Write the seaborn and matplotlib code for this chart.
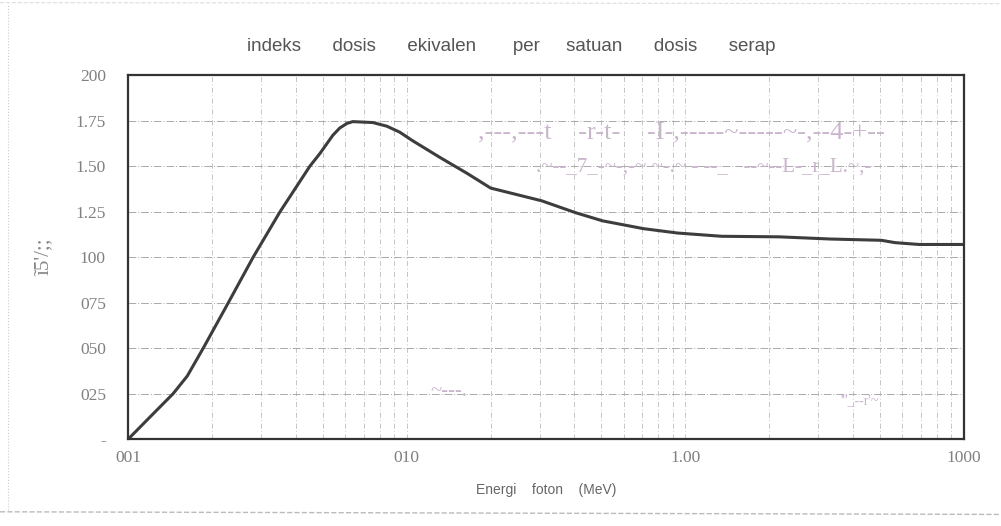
import numpy as np
import pandas as pd
import matplotlib.pyplot as plt
import matplotlib.ticker as mticker
import seaborn as sns

# photon energy (MeV) and equivalent dose index per unit absorbed dose
energy = [0.01, 0.012, 0.0145, 0.0163, 0.0186, 0.0227, 0.0281, 0.0351,
          0.0449, 0.0488, 0.0543, 0.0575, 0.061, 0.064, 0.0755, 0.0848,
          0.0944, 0.105, 0.131, 0.165, 0.200, 0.305, 0.403, 0.504, 0.707,
          0.936, 1.35, 2.17, 3.31, 5.05, 5.66, 6.9, 10.0]
ratio = [0.0, 0.123, 0.25, 0.347, 0.50, 0.74, 1.00, 1.25,
         1.50, 1.57, 1.67, 1.71, 1.735, 1.745, 1.74, 1.72,
         1.687, 1.64, 1.55, 1.46, 1.38, 1.31, 1.245, 1.20, 1.157,
         1.133, 1.115, 1.112, 1.10, 1.093, 1.08, 1.07, 1.07]

y_ticks = [0, 0.25, 0.5, 0.75, 1.0, 1.25, 1.5, 1.75, 2.0]
y_labels = ["-", "025", "050", "075", "100", "1.25", "1.50", "1.75", "200"]
x_ticks = [0.01, 0.1, 1, 10]
x_labels = ["001", "010", "1.00", "1000"]

title = "indeks      dosis      ekivalen       per     satuan      dosis      serap"
xlabel = "Energi    foton    (MeV)"
ylabel = "ĩ5'/;;"

df = pd.DataFrame({"energy": energy, "ratio": ratio})

sns.set_style("white")
plt.rcParams['font.family'] = ['Liberation Serif', 'DejaVu Serif']

fig = plt.figure(figsize=(10.01, 5.26), dpi=100)
ax = fig.add_axes([0.128, 0.165, 0.835, 0.692])

sns.lineplot(data=df, x="energy", y="ratio", ax=ax, color="#3d3d3d", linewidth=2.2)

ax.set_xscale("log")
ax.set_xlim(0.01, 10)
ax.set_ylim(0, 2.0)

ax.set_xticks(x_ticks)
ax.set_xticklabels(x_labels, color="#808080", fontsize=12.5)
ax.set_yticks(y_ticks)
ax.set_yticklabels(y_labels, color="#808080", fontsize=12.5)
ax.xaxis.set_minor_locator(mticker.LogLocator(base=10, subs=np.arange(2, 10)))
ax.xaxis.set_minor_formatter(mticker.NullFormatter())

ax.tick_params(axis="y", length=6, color="#888888", direction="out", pad=10)
ax.tick_params(axis="x", which="both", length=0, pad=8)

ax.grid(True, axis="y", color="#aaaaaa", linewidth=0.7, linestyle=(0, (8, 2, 1, 2)))
ax.grid(True, axis="x", which="both", color="#bbbbbb", linewidth=0.6,
        linestyle=(0, (6, 3, 1, 3)))

for s in ax.spines.values():
    s.set_color("#333333")
    s.set_linewidth(1.6)

ax.set_xlabel(xlabel, family=["Liberation Sans", "DejaVu Sans"], color="#666666",
              fontsize=10, labelpad=12)
ax.set_ylabel(ylabel, color="#888888", fontsize=15, labelpad=16)
fig.text(0.511, 0.912, title, family=["Liberation Sans", "DejaVu Sans"],
         color="#555555", fontsize=13.5, ha="center", va="center")

# faint scanning artefacts
noise = "#c9b6cc"
fig.text(0.478, 0.748, ",---,---t    -r-t-    -I-,-----~-----~-,--4-+--",
         color=noise, fontsize=19, ha="left", va="center")
fig.text(0.535, 0.683, ".~--_7_-~-,-~ ~-.~ - --_   --~--L-_r_L.~,-",
         color=noise, fontsize=15, ha="left", va="center")
fig.text(0.43, 0.255, "~---.", color=noise, fontsize=15, ha="left", va="center")
fig.text(0.84, 0.238, "'''_--r'~", color=noise, fontsize=10, ha="left", va="center")

# page border of the scan
fig.add_artist(plt.Line2D([0.008, 0.008], [0.03, 0.99], color="#cccccc",
                          linewidth=0.8, linestyle=":"))
fig.add_artist(plt.Line2D([0.0, 1.0], [0.027, 0.022], color="#bbbbbb",
                          linewidth=1.0, linestyle="--"))
fig.add_artist(plt.Line2D([0.0, 1.0], [0.995, 0.993], color="#dddddd",
                          linewidth=0.8, linestyle="--"))

fig.savefig("out.png", dpi=100, facecolor="white")
